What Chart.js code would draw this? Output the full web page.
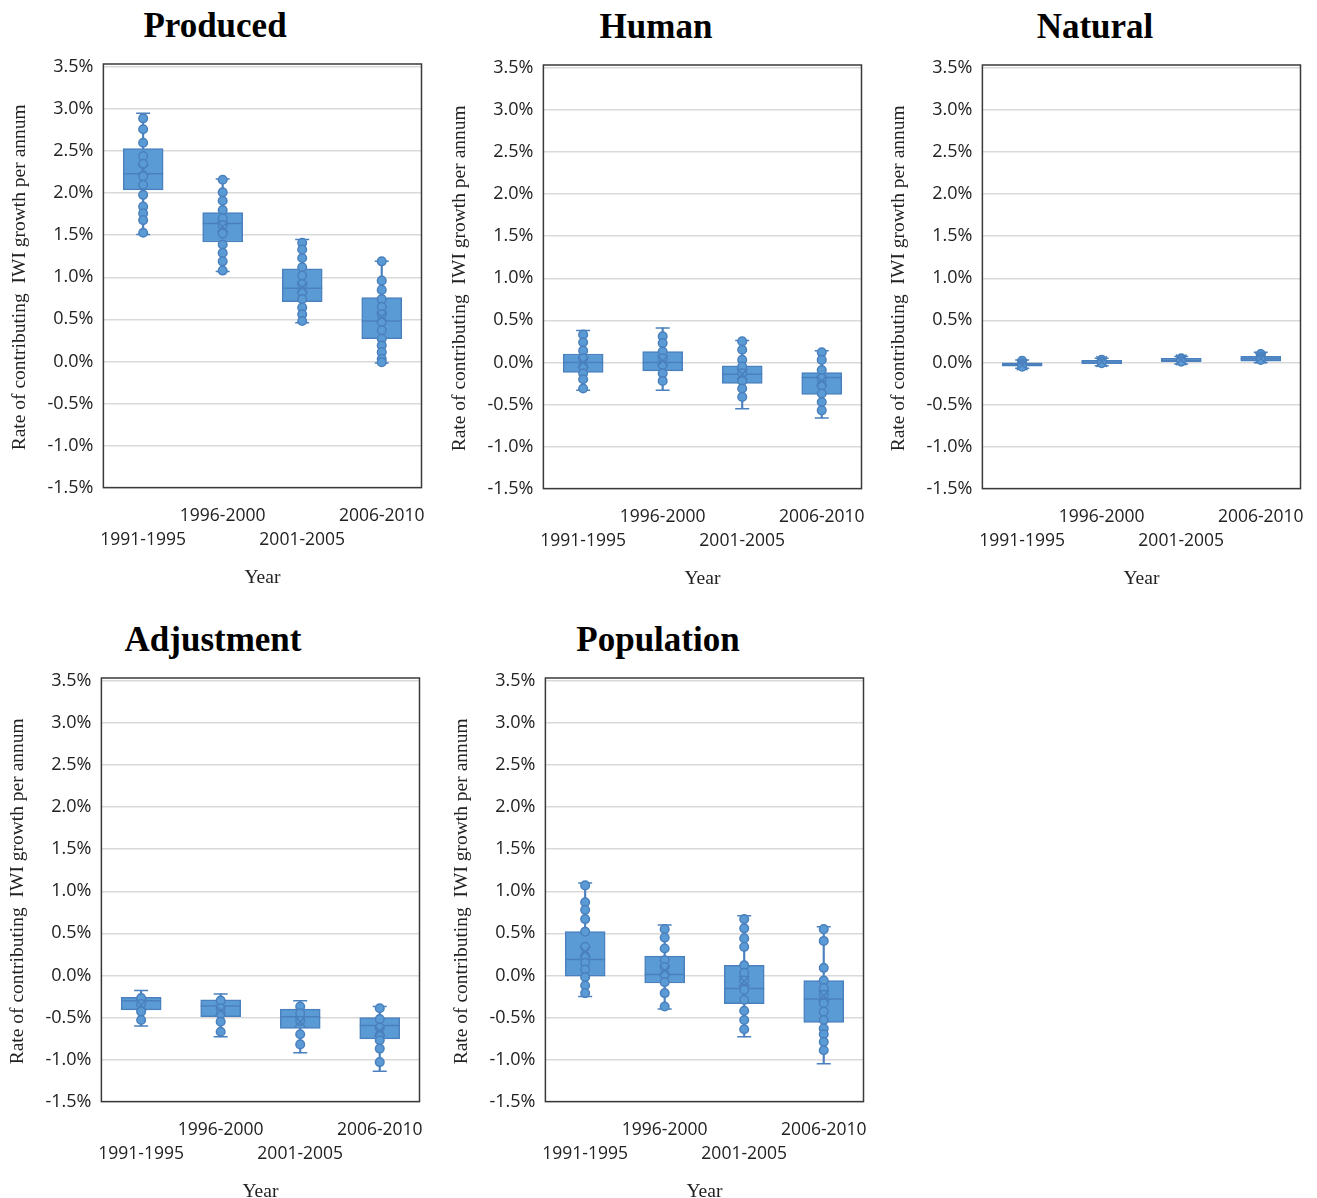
<!DOCTYPE html>
<html>
<head>
<meta charset="utf-8">
<script src="https://cdn.jsdelivr.net/npm/chart.js@4.4.0/dist/chart.umd.min.js"></script>
<style>
  body { margin:0; background:#fff; overflow:hidden; }
  .panel { position:absolute; width:443px; height:600px; }
  .ttl { position:absolute; width:300px; text-align:center; font: bold 35px 'Liberation Serif'; color:#000; line-height:40px; }
</style>
</head>
<body>
<div class="ttl" style="left:65px;top:6px">Produced</div>
<div class="ttl" style="left:506px;top:7px">Human</div>
<div class="ttl" style="left:945px;top:7px">Natural</div>
<div class="ttl" style="left:63px;top:620px">Adjustment</div>
<div class="ttl" style="left:508px;top:620px">Population</div>
<div class="panel" style="left:0;top:2px"><canvas id="c0"></canvas></div>
<div class="panel" style="left:440px;top:3px"><canvas id="c1"></canvas></div>
<div class="panel" style="left:879px;top:3px"><canvas id="c2"></canvas></div>
<div class="panel" style="left:-2px;top:616px"><canvas id="c3"></canvas></div>
<div class="panel" style="left:442px;top:616px"><canvas id="c4"></canvas></div>
<script>
const periods = ['1991-1995', '1996-2000', '2001-2005', '2006-2010'];
const yTicks = [-1.5, -1.0, -0.5, 0.0, 0.5, 1.0, 1.5, 2.0, 2.5, 3.0, 3.5];

// values in % per annum
const producedWhisker = [[1.51, 2.95], [1.07, 2.17], [0.46, 1.45], [-0.02, 1.19]];
const producedBox = [[2.04, 2.53], [1.42, 1.77], [0.71, 1.10], [0.27, 0.76]];
const producedMedian = [2.23, 1.64, 0.87, 0.48];
const producedMean = [2.28, 1.60, 0.88, 0.53];
const producedPoints = [
  [2.89, 2.76, 2.60, 2.44, 2.35, 2.20, 2.10, 1.98, 1.84, 1.76, 1.68, 1.53],
  [2.16, 2.01, 1.91, 1.80, 1.70, 1.62, 1.52, 1.39, 1.29, 1.19, 1.08],
  [1.41, 1.33, 1.23, 1.12, 1.02, 0.92, 0.82, 0.74, 0.64, 0.56, 0.48],
  [1.19, 0.96, 0.85, 0.74, 0.65, 0.56, 0.47, 0.37, 0.27, 0.19, 0.11, 0.03, -0.01]
];

const humanWhisker = [[-0.33, 0.38], [-0.33, 0.41], [-0.55, 0.26], [-0.66, 0.14]];
const humanBox = [[-0.12, 0.10], [-0.10, 0.13], [-0.25, -0.04], [-0.38, -0.12]];
const humanMedian = [0.0, 0.0, -0.14, -0.18];
const humanMean = [0.0, 0.02, -0.14, -0.22];
const humanPoints = [
  [0.33, 0.24, 0.14, 0.05, -0.05, -0.13, -0.20, -0.31],
  [0.31, 0.23, 0.13, 0.05, -0.03, -0.13, -0.22],
  [0.25, 0.15, 0.03, -0.05, -0.13, -0.22, -0.31, -0.41],
  [0.12, 0.03, -0.09, -0.19, -0.27, -0.37, -0.47, -0.57]
];

const naturalWhisker = [[-0.07, 0.03], [-0.04, 0.05], [-0.02, 0.07], [0.0, 0.12]];
const naturalBox = [[-0.045, -0.005], [-0.015, 0.025], [0.0, 0.048], [0.015, 0.072]];
const naturalMedian = [-0.025, 0.005, 0.025, 0.045];
const naturalMean = [-0.03, 0.01, 0.03, 0.05];
const naturalPoints = [
  [0.02, -0.01, -0.03, -0.05],
  [0.03, 0.01, -0.01],
  [0.05, 0.03, 0.01],
  [0.10, 0.07, 0.05, 0.03]
];

const adjustmentWhisker = [[-0.60, -0.18], [-0.73, -0.22], [-0.92, -0.30], [-1.14, -0.37]];
const adjustmentBox = [[-0.41, -0.26], [-0.49, -0.29], [-0.63, -0.40], [-0.755, -0.50]];
const adjustmentMedian = [-0.30, -0.365, -0.49, -0.595];
const adjustmentMean = [-0.35, -0.42, -0.55, -0.66];
const adjustmentPoints = [
  [-0.27, -0.34, -0.43, -0.53],
  [-0.30, -0.39, -0.46, -0.55, -0.67],
  [-0.37, -0.45, -0.54, -0.70, -0.82],
  [-0.39, -0.52, -0.62, -0.71, -0.77, -0.87, -1.03]
];

const populationWhisker = [[-0.25, 1.10], [-0.40, 0.60], [-0.73, 0.71], [-1.05, 0.58]];
const populationBox = [[-0.01, 0.52], [-0.09, 0.23], [-0.335, 0.12], [-0.56, -0.06]];
const populationMedian = [0.19, 0.01, -0.155, -0.28];
const populationMean = [0.28, 0.06, -0.07, -0.24];
const populationPoints = [
  [1.07, 0.87, 0.78, 0.67, 0.52, 0.34, 0.23, 0.15, 0.07, -0.02, -0.12, -0.21],
  [0.55, 0.45, 0.32, 0.18, 0.10, 0.01, -0.08, -0.21, -0.37],
  [0.67, 0.56, 0.44, 0.34, 0.12, 0.03, -0.06, -0.17, -0.29, -0.42, -0.53, -0.64],
  [0.55, 0.41, 0.09, -0.06, -0.15, -0.23, -0.33, -0.43, -0.53, -0.63, -0.70, -0.79, -0.89]
];

const fill = '#5b9bd5';
const edge = '#4a80bd';

// staggered category labels like the original
const xLabels = periods.map((p, i) => i % 2 ? [p, ''] : ['', p]);

const frame = {
  id: 'frame',
  beforeDatasetsDraw(chart) {
    const a = chart.chartArea, ctx = chart.ctx;
    ctx.save();
    ctx.strokeStyle = '#3a3a3a';
    ctx.lineWidth = 1.5;
    ctx.strokeRect(a.left, a.top - 3, a.right - a.left, a.bottom - a.top + 3);
    ctx.restore();
  }
};

function pts(arr) {
  let out = [];
  arr.forEach((g, i) => g.forEach(v => out.push({x: i, y: v})));
  return out;
}

function makeChart(id, whisker, box, median, mean, points) {
  const caps = [];
  whisker.forEach((w, i) => { caps.push({x: i, y: w[0]}); caps.push({x: i, y: w[1]}); });
  new Chart(document.getElementById(id), {
    type: 'bar',
    data: {
      labels: xLabels,
      datasets: [
        { data: whisker, backgroundColor: edge, barThickness: 1.5, grouped: false, order: 6 },
        { type: 'line', xAxisID: 'xp', data: caps, showLine: false, pointStyle: 'line', pointRadius: 7,
          borderColor: edge, borderWidth: 1.5, order: 5 },
        { data: box, backgroundColor: fill, borderColor: edge, borderWidth: 1.5,
          borderSkipped: false, barThickness: 40, grouped: false, order: 4 },
        { type: 'line', xAxisID: 'xp', data: median.map((v, i) => ({x: i, y: v})), showLine: false,
          pointStyle: 'line', pointRadius: 20, borderColor: edge, borderWidth: 1.5, order: 3 },
        { type: 'line', xAxisID: 'xp', data: pts(points), showLine: false, pointStyle: 'circle', pointRadius: 4.3,
          backgroundColor: fill, borderColor: edge, borderWidth: 1.5, order: 2 },
        { type: 'line', xAxisID: 'xp', data: mean.map((v, i) => ({x: i, y: v})), showLine: false,
          pointStyle: 'crossRot', pointRadius: 7.5, borderColor: edge, borderWidth: 1.5, order: 1 }
      ]
    },
    options: {
      responsive: true,
      maintainAspectRatio: false,
      animation: false,
      layout: { padding: { left: 8, right: 0, top: 65, bottom: 12 } },
      plugins: {
        legend: { display: false },
        tooltip: { enabled: false },
        title: { display: false }
      },
      scales: {
        x: {
          grid: { display: false },
          border: { display: false },
          ticks: { color: '#222', maxRotation: 0, autoSkip: false, padding: 8,
            font: { family: 'Open Sans', size: 17.5, lineHeight: 1.4 } },
          title: { display: true, text: 'Year', color: '#222', padding: { top: 6, bottom: 0 },
            font: { family: 'Liberation Serif', size: 19.5 } }
        },
        xp: { type: 'linear', display: false, offset: false, grace: 0, min: -0.5, max: 3.5,
          grid: { offset: false } },
        y: {
          min: -1.5, max: 3.5,
          afterBuildTicks: s => { s.ticks = yTicks.map(v => ({value: v})); },
          grid: { color: '#d9d9d9', lineWidth: 1.5, drawTicks: false },
          border: { display: false },
          ticks: { color: '#222', padding: 10, callback: v => v.toFixed(1) + '%',
            font: { family: 'Open Sans', size: 18 } },
          title: { display: true, text: 'Rate of contributing  IWI growth per annum', color: '#222',
            padding: { top: 0, bottom: 6 }, font: { family: 'Liberation Serif', size: 19.5 } }
        }
      }
    },
    plugins: [frame]
  });
}

makeChart('c0', producedWhisker, producedBox, producedMedian, producedMean, producedPoints);
makeChart('c1', humanWhisker, humanBox, humanMedian, humanMean, humanPoints);
makeChart('c2', naturalWhisker, naturalBox, naturalMedian, naturalMean, naturalPoints);
makeChart('c3', adjustmentWhisker, adjustmentBox, adjustmentMedian, adjustmentMean, adjustmentPoints);
makeChart('c4', populationWhisker, populationBox, populationMedian, populationMean, populationPoints);
</script>
</body>
</html>
